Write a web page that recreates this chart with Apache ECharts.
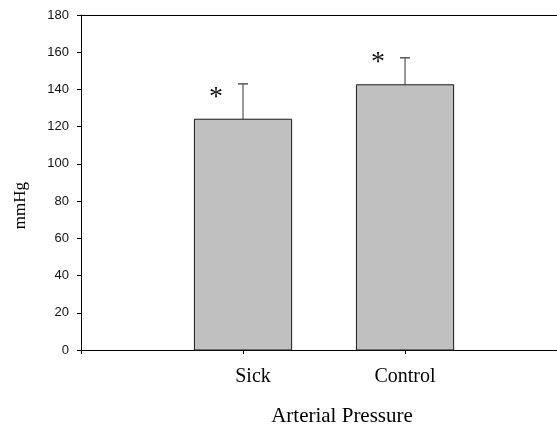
<!DOCTYPE html>
<html>
<head>
<meta charset="utf-8">
<script src="https://cdn.jsdelivr.net/npm/echarts@6/dist/echarts.min.js"></script>
<style>
  html, body { margin: 0; padding: 0; background: #fff; }
  #chart { width: 557px; height: 427px; }
</style>
</head>
<body>
<div id="chart"></div>
<script>
// groups on the x axis (placed at 1, 2)
var categories = ['Sick', 'Control']
// bar heights (mean) and upper end of the error bar
var means = [124, 142.5]
var upperErr = [143, 157]
// height of the significance asterisk above each bar
var starY = [139, 157.5]
var yTicks = [0, 20, 40, 60, 80, 100, 120, 140, 160, 180]

var seriesData = categories.map(function (c, i) {
  return [i + 1, means[i], upperErr[i], starY[i]]
})

var barHalf = 0.3

function renderItem(params, api) {
  var x = api.value(0)
  var base = api.coord([x - barHalf, 0])
  var top = api.coord([x + barHalf, api.value(1)])
  var mid = api.coord([x, api.value(1)])
  var errTop = api.coord([x, api.value(2)])
  var star = api.coord([x, api.value(3)])
  return {
    type: 'group',
    children: [
      {
        type: 'rect',
        shape: { x: base[0], y: top[1], width: top[0] - base[0], height: base[1] - top[1] },
        style: { fill: '#c0c0c0', stroke: '#1a1a1a', lineWidth: 1 }
      },
      {
        type: 'line',
        shape: { x1: mid[0], y1: mid[1], x2: errTop[0], y2: errTop[1] },
        style: { stroke: '#333', lineWidth: 1 }
      },
      {
        type: 'line',
        shape: { x1: errTop[0] - 5, y1: errTop[1], x2: errTop[0] + 5, y2: errTop[1] },
        style: { stroke: '#555', lineWidth: 1.5 }
      },
      {
        type: 'text',
        x: star[0] - 27,
        y: star[1] + 6,
        style: {
          text: '*',
          font: '28px "Liberation Serif", "Times New Roman", serif',
          fill: '#111',
          align: 'center',
          verticalAlign: 'middle'
        }
      }
    ]
  }
}

var chart = echarts.init(document.getElementById('chart'))
var option = {
  animation: false,
  grid: {
    left: 81,
    right: 0,
    top: 15,
    bottom: 77,
    outerBoundsMode: 'none',
    containLabel: false
  },
  xAxis: [{
    type: 'value',
    min: 0,
    max: 2.938,
    interval: 1,
    name: 'Arterial Pressure',
    nameLocation: 'middle',
    nameGap: 56,
    nameTextStyle: {
      fontFamily: '"Liberation Serif", "Times New Roman", serif',
      fontSize: 21,
      color: '#000',
      padding: [0, 0, 0, 46]
    },
    axisLine: { show: true, lineStyle: { color: '#000', width: 1 } },
    axisTick: { show: true, length: 4, lineStyle: { color: '#000' } },
    axisLabel: {
      margin: 17,
      fontFamily: '"Liberation Serif", "Times New Roman", serif',
      fontSize: 20,
      color: '#000',
      showMaxLabel: false,
      formatter: function (v) {
        if (v === 1) return '{s|' + categories[0] + '}'
        return categories[v - 1] || ''
      },
      rich: {
        s: {
          fontFamily: '"Liberation Serif", "Times New Roman", serif',
          fontSize: 20,
          color: '#000',
          padding: [0, 0, 0, 20]
        }
      }
    },
    splitLine: { show: false }
  }, {
    type: 'value',
    position: 'top',
    min: 0,
    max: 2.938,
    axisLine: { show: true, lineStyle: { color: '#000', width: 1 } },
    axisTick: { show: false },
    axisLabel: { show: false },
    splitLine: { show: false }
  }],
  yAxis: {
    type: 'value',
    min: yTicks[0],
    max: yTicks[yTicks.length - 1],
    interval: 20,
    axisLine: { show: true, lineStyle: { color: '#000', width: 1 } },
    axisTick: { show: true, length: 4, lineStyle: { color: '#000' } },
    axisLabel: {
      margin: 12,
      fontFamily: '"Liberation Sans", Arial, sans-serif',
      fontSize: 13,
      color: '#111'
    },
    splitLine: { show: false }
  },
  graphic: [{
    type: 'text',
    left: 12,
    top: 182,
    rotation: Math.PI / 2,
    style: {
      text: 'mmHg',
      font: '17px "Liberation Serif", "Times New Roman", serif',
      fill: '#000'
    }
  }],
  series: [{
    type: 'custom',
    renderItem: renderItem,
    data: seriesData,
    encode: { x: 0, y: [1, 2] },
    z: 3
  }]
}
chart.setOption(option)
</script>
</body>
</html>
